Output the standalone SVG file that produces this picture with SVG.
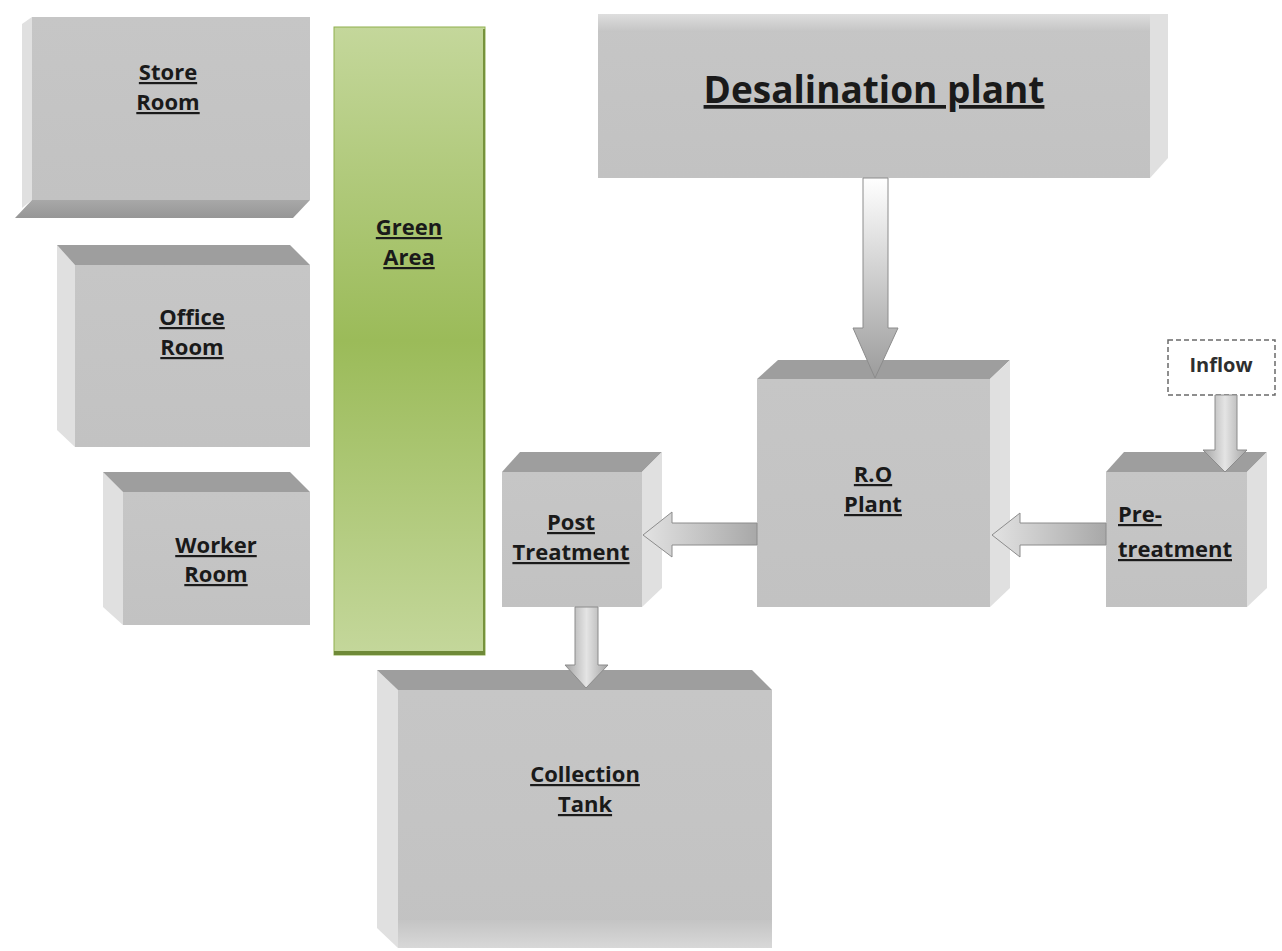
<svg xmlns="http://www.w3.org/2000/svg" width="1282" height="951" viewBox="0 0 1282 951">
  <defs>
    <linearGradient id="greenFill" x1="0" y1="0" x2="0" y2="1">
      <stop offset="0" stop-color="#c4d79b"/>
      <stop offset="0.5" stop-color="#9bbb59"/>
      <stop offset="1" stop-color="#c4d79b"/>
    </linearGradient>
    <linearGradient id="frontFill" x1="0" y1="0" x2="0" y2="1">
      <stop offset="0" stop-color="#c6c6c6"/>
      <stop offset="1" stop-color="#c2c2c2"/>
    </linearGradient>
    <linearGradient id="desalTop" x1="0" y1="0" x2="0" y2="1">
      <stop offset="0" stop-color="#dedede"/>
      <stop offset="1" stop-color="#c4c4c4"/>
    </linearGradient>
    <linearGradient id="tankBottom" x1="0" y1="0" x2="0" y2="1">
      <stop offset="0" stop-color="#c4c4c4"/>
      <stop offset="1" stop-color="#d8d8d8"/>
    </linearGradient>
    <linearGradient id="bevelBottom" x1="0" y1="0" x2="0" y2="1">
      <stop offset="0" stop-color="#a8a8a8"/>
      <stop offset="1" stop-color="#969696"/>
    </linearGradient>
    <linearGradient id="arrowDown" x1="0" y1="0" x2="0" y2="1">
      <stop offset="0" stop-color="#ffffff"/>
      <stop offset="1" stop-color="#9c9c9c"/>
    </linearGradient>
    <linearGradient id="arrowAcrossV" x1="0" y1="0" x2="1" y2="0">
      <stop offset="0" stop-color="#a4a4a4"/>
      <stop offset="0.5" stop-color="#e4e4e4"/>
      <stop offset="1" stop-color="#a4a4a4"/>
    </linearGradient>
    <linearGradient id="arrowLeft" x1="0" y1="0" x2="1" y2="0">
      <stop offset="0" stop-color="#e2e2e2"/>
      <stop offset="1" stop-color="#a8a8a8"/>
    </linearGradient>
    <style>
      .front { fill: url(#frontFill); }
      .dark { fill: #9e9e9e; }
      .light { fill: #e0e0e0; }
      .label { font-family: "Open Sans", "Liberation Sans", sans-serif; font-weight: 700; font-size: 22px; fill: #1a1a1a; text-anchor: middle; text-decoration: underline; }
      .arrow { stroke: #8c8c8c; stroke-width: 1; }
    </style>
  </defs>

  <rect width="1282" height="951" fill="#ffffff"/>

  <!-- rooms on the left -->
  <g id="store-room">
    <polygon class="light" points="22,24 32,17 32,200 22,208"/>
    <rect class="front" x="32" y="17" width="278" height="183"/>
    <polygon fill="url(#bevelBottom)" points="32,200 310,200 293,218 15,218"/>
    <text class="label" x="168" y="80">Store</text>
    <text class="label" x="168" y="110">Room</text>
  </g>

  <g id="office-room">
    <polygon class="light" points="57,245 75,265 75,447 57,430"/>
    <rect class="front" x="75" y="265" width="235" height="182"/>
    <polygon class="dark" points="57,245 290,245 310,265 75,265"/>
    <text class="label" x="192" y="325">Office</text>
    <text class="label" x="192" y="355">Room</text>
  </g>

  <g id="worker-room">
    <polygon class="light" points="103,472 123,492 123,625 103,607"/>
    <rect class="front" x="123" y="492" width="187" height="133"/>
    <polygon class="dark" points="103,472 290,472 310,492 123,492"/>
    <text class="label" x="216" y="553">Worker</text>
    <text class="label" x="216" y="582">Room</text>
  </g>

  <g id="green-area">
    <rect x="334" y="27" width="151" height="628" fill="url(#greenFill)" stroke="#8fb04e" stroke-width="1"/>
    <rect x="483" y="29" width="2" height="626" fill="#76923c"/>
    <rect x="334" y="651" width="151" height="4" fill="#6f8a38"/>
    <text class="label" x="409" y="235">Green</text>
    <text class="label" x="409" y="265">Area</text>
  </g>

  <!-- plant units -->
  <g id="desalination-plant">
    <rect class="front" x="598" y="14" width="552" height="164"/>
    <rect x="598" y="14" width="552" height="18" fill="url(#desalTop)"/>
    <polygon class="light" points="1150,14 1168,14 1168,158 1150,178"/>
    <text class="label" x="874" y="103" style="font-size:37px">Desalination plant</text>
  </g>

  <g id="ro-plant">
    <rect class="front" x="757" y="379" width="233" height="228"/>
    <polygon class="dark" points="778,360 1010,360 990,379 757,379"/>
    <polygon class="light" points="990,379 1010,360 1010,588 990,607"/>
    <text class="label" x="873" y="482">R.O</text>
    <text class="label" x="873" y="512">Plant</text>
  </g>

  <g id="inflow">
    <rect x="1168" y="340" width="107" height="55" fill="#ffffff" stroke="#6a6a6a" stroke-width="1.5" stroke-dasharray="5,3"/>
    <text x="1221" y="372" font-family="Open Sans, Liberation Sans, sans-serif" font-weight="700" font-size="20" fill="#2e2e2e" text-anchor="middle">Inflow</text>
  </g>

  <g id="pre-treatment">
    <rect class="front" x="1106" y="472" width="141" height="135"/>
    <polygon class="dark" points="1124,452 1267,452 1247,472 1106,472"/>
    <polygon class="light" points="1247,472 1267,452 1267,588 1247,607"/>
    <text class="label" x="1118" y="522" style="text-anchor:start">Pre-</text>
    <text class="label" x="1118" y="557" style="text-anchor:start">treatment</text>
  </g>

  <g id="post-treatment">
    <rect class="front" x="502" y="472" width="140" height="135"/>
    <polygon class="dark" points="520,452 662,452 642,472 502,472"/>
    <polygon class="light" points="642,472 662,452 662,588 642,607"/>
    <text class="label" x="571" y="530">Post</text>
    <text class="label" x="571" y="560">Treatment</text>
  </g>

  <g id="collection-tank">
    <polygon class="light" points="377,670 398,690 398,948 377,928"/>
    <rect class="front" x="398" y="690" width="374" height="258"/>
    <rect x="398" y="920" width="374" height="28" fill="url(#tankBottom)"/>
    <polygon class="dark" points="377,670 752,670 772,690 398,690"/>
    <text class="label" x="585" y="782">Collection</text>
    <text class="label" x="585" y="812">Tank</text>
  </g>

  <!-- flow arrows -->
  <g id="connectors">
    <polygon class="arrow" fill="url(#arrowDown)" points="863,178 888,178 888,328 898,328 875,378 853,328 863,328"/>
    <polygon class="arrow" fill="url(#arrowAcrossV)" points="1215,395 1237,395 1237,450 1247,450 1225,472 1203,450 1215,450"/>
    <polygon class="arrow" fill="url(#arrowLeft)" points="1106,523 1020,523 1020,513 992,535 1020,557 1020,545 1106,545"/>
    <polygon class="arrow" fill="url(#arrowLeft)" points="757,523 672,523 672,512 643,535 672,557 672,545 757,545"/>
    <polygon class="arrow" fill="url(#arrowAcrossV)" points="575,607 598,607 598,665 608,665 586,688 565,665 575,665"/>
  </g>
</svg>
